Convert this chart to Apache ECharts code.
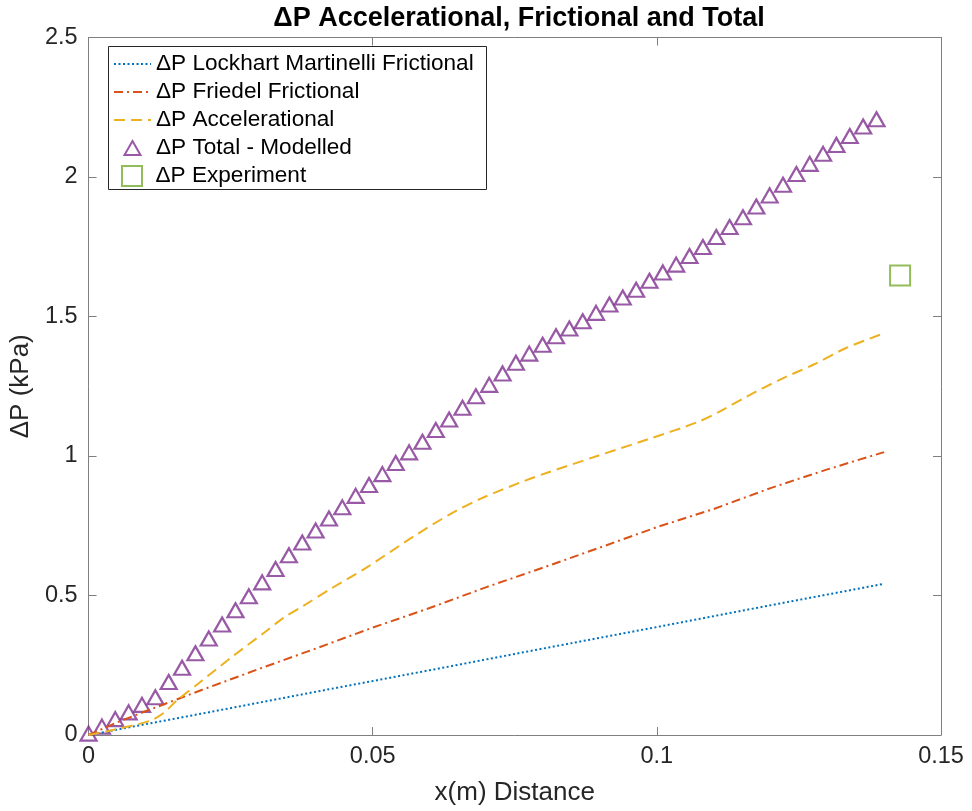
<!DOCTYPE html>
<html>
<head>
<meta charset="utf-8">
<script src="https://cdn.jsdelivr.net/npm/echarts@6/dist/echarts.min.js"></script>
<style>
  html, body { margin: 0; padding: 0; background: #ffffff; }
  #chart { width: 972px; height: 811px; }
</style>
</head>
<body>
<div id="chart"></div>
<script>
// Axis ticks
const xTicks = [0, 0.05, 0.1, 0.15];
const yTicks = [0, 0.5, 1, 1.5, 2, 2.5];

// Lockhart-Martinelli frictional pressure drop (kPa) along the channel (m)
const lmX = [0, 0.02, 0.04, 0.06, 0.08, 0.10, 0.12, 0.14];
const lmY = [0, 0.077, 0.155, 0.232, 0.31, 0.387, 0.465, 0.542];

// Friedel frictional pressure drop
const frX = [0, 0.005, 0.01, 0.02, 0.03, 0.04, 0.05, 0.06, 0.07, 0.08, 0.09, 0.10, 0.11, 0.12, 0.13, 0.14];
const frY = [0, 0.045, 0.085, 0.162, 0.237, 0.31, 0.385, 0.455, 0.53, 0.60, 0.672, 0.745, 0.81, 0.885, 0.952, 1.014];

// Accelerational pressure drop
const acX = [0, 0.005, 0.0108, 0.0132, 0.0155, 0.0196, 0.0255, 0.0313, 0.0343, 0.0378, 0.0427, 0.0489,
             0.0573, 0.0635, 0.069, 0.0766, 0.0807, 0.0895, 0.0983, 0.1071, 0.1112, 0.1159, 0.1217,
             0.1276, 0.1334, 0.14];
const acY = [0, 0.021, 0.051, 0.079, 0.123, 0.189, 0.284, 0.373, 0.42, 0.463, 0.525, 0.600,
             0.713, 0.790, 0.847, 0.910, 0.940, 1.000, 1.059, 1.121, 1.161, 1.214, 1.274,
             1.328, 1.388, 1.44];

// Total modelled pressure drop
const totX = [0, 0.00235, 0.0047, 0.00705, 0.0094, 0.01175, 0.0141, 0.01645, 0.0188, 0.02115,
              0.0235, 0.02585, 0.0282, 0.03055, 0.0329, 0.03525, 0.0376, 0.03995, 0.0423, 0.04465,
              0.047, 0.04935, 0.0517, 0.05405, 0.0564, 0.05875, 0.0611, 0.06345, 0.0658, 0.06815,
              0.0705, 0.07285, 0.0752, 0.07755, 0.0799, 0.08225, 0.0846, 0.08695, 0.0893, 0.09165,
              0.094, 0.09635, 0.0987, 0.10105, 0.1034, 0.10575, 0.1081, 0.11045, 0.1128, 0.11515,
              0.1175, 0.11985, 0.1222, 0.12455, 0.1269, 0.12925, 0.1316, 0.13395, 0.1363, 0.13865];
const totY = [0.005, 0.030, 0.057, 0.081, 0.108, 0.135, 0.190, 0.241, 0.293, 0.346,
              0.396, 0.447, 0.497, 0.547, 0.595, 0.644, 0.690, 0.733, 0.776, 0.816,
              0.857, 0.896, 0.935, 0.975, 1.013, 1.051, 1.093, 1.131, 1.173, 1.214,
              1.255, 1.296, 1.334, 1.367, 1.399, 1.429, 1.457, 1.483, 1.513, 1.543,
              1.568, 1.596, 1.628, 1.658, 1.686, 1.717, 1.749, 1.785, 1.821, 1.856,
              1.894, 1.934, 1.972, 2.011, 2.047, 2.083, 2.115, 2.147, 2.181, 2.207];

// Measured pressure drop
const expX = [0.1428];
const expY = [1.647];

const names = ['\u0394P Lockhart Martinelli Frictional', '\u0394P Friedel Frictional',
               '\u0394P Accelerational', '\u0394P Total - Modelled', '\u0394P Experiment'];

const pair = (xs, ys) => xs.map((x, i) => [x, ys[i]]);

const FONT = '"Liberation Sans", Arial, Helvetica, sans-serif';
const AXIS_COLOR = '#7f7f7f';
const TEXT_COLOR = '#262626';
const PURPLE = '#7E2F8E';
const GREEN = '#77AC30';

const xMin = xTicks[0], xMax = xTicks[xTicks.length - 1], xStep = xTicks[1] - xTicks[0];
const yMin = yTicks[0], yMax = yTicks[yTicks.length - 1], yStep = yTicks[1] - yTicks[0];

function axisBase(extra) {
  return Object.assign({
    type: 'value',
    splitLine: { show: false },
    axisLine: { show: true, onZero: false, lineStyle: { color: AXIS_COLOR, width: 1 } },
    axisTick: { show: true, inside: true, length: 8, lineStyle: { color: AXIS_COLOR, width: 1 } }
  }, extra);
}

// Hollow markers for the legend, kept square so they are not stretched
const triIcon = 'path://M8,0 L16,14 L0,14 Z';
const sqIcon = 'path://M0,0 L20,0 L20,20 L0,20 Z';

const chart = echarts.init(document.getElementById('chart'), null, { renderer: 'canvas' });

chart.setOption({
  animation: false,
  backgroundColor: '#ffffff',
  title: {
    text: '\u0394P Accelerational, Frictional and Total',
    left: 514, top: 0, textAlign: 'center',
    textStyle: { fontFamily: FONT, fontSize: 27, fontWeight: 'bold', color: '#000000' }
  },
  grid: { left: 87, right: 31, top: 37.5, bottom: 75, containLabel: false },
  xAxis: [
    axisBase({
      min: xMin, max: xMax, interval: xStep, position: 'bottom',
      name: 'x(m) Distance', nameLocation: 'middle', nameGap: 45,
      nameTextStyle: { fontFamily: FONT, fontSize: 26, color: TEXT_COLOR },
      axisLabel: { fontFamily: FONT, fontSize: 23.5, color: TEXT_COLOR, margin: 10 }
    }),
    axisBase({ min: xMin, max: xMax, interval: xStep, position: 'top', axisLabel: { show: false } })
  ],
  yAxis: [
    axisBase({
      min: yMin, max: yMax, interval: yStep, position: 'left',
      name: '\u0394P (kPa)', nameLocation: 'middle', nameGap: 39,
      nameTextStyle: { fontFamily: FONT, fontSize: 26, color: TEXT_COLOR },
      axisLabel: { fontFamily: FONT, fontSize: 23.5, color: TEXT_COLOR, margin: 11 }
    }),
    axisBase({ min: yMin, max: yMax, interval: yStep, position: 'right', axisLabel: { show: false } })
  ],
  graphic: [{
    type: 'rect', z: 3,
    shape: { x: 108.5, y: 46.5, width: 378, height: 143 },
    style: { fill: '#ffffff', stroke: '#262626', lineWidth: 1 }
  }],
  legend: [
    {
      orient: 'vertical', left: 113, top: 52, z: 5, padding: 0,
      itemWidth: 37, itemHeight: 14, itemGap: 4, itemTextGap: 6,
      symbolKeepAspect: true,
      textStyle: { fontFamily: FONT, fontSize: 22.6, lineHeight: 24, color: '#000000' },
      lineStyle: { width: 2 },
      itemStyle: { borderWidth: 2 },
      data: [
        { name: names[0], itemStyle: { opacity: 0 } },
        { name: names[1], itemStyle: { opacity: 0 } },
        { name: names[2], itemStyle: { opacity: 0 } },
        { name: names[3], icon: triIcon,
          itemStyle: { color: 'rgba(255,255,255,0)', borderColor: PURPLE, borderWidth: 2 } }
      ]
    },
    {
      orient: 'vertical', left: 121, top: 164, z: 5, padding: 0,
      itemWidth: 37, itemHeight: 20, itemTextGap: 6,
      symbolKeepAspect: true,
      textStyle: { fontFamily: FONT, fontSize: 22.6, lineHeight: 24, color: '#000000' },
      data: [{ name: names[4], icon: sqIcon,
               itemStyle: { color: 'rgba(255,255,255,0)', borderColor: GREEN, borderWidth: 2 } }]
    }
  ],
  series: [
    {
      name: names[0], type: 'line', data: pair(lmX, lmY), symbol: 'none',
      lineStyle: { color: '#0072BD', width: 2, type: [2, 2.5] },
      itemStyle: { color: '#0072BD' }
    },
    {
      name: names[1], type: 'line', data: pair(frX, frY), symbol: 'none',
      lineStyle: { color: '#D95319', width: 2, type: [9, 4, 2, 4] },
      itemStyle: { color: '#D95319' }
    },
    {
      name: names[2], type: 'line', data: pair(acX, acY), symbol: 'none', smooth: 0.3,
      lineStyle: { color: '#EDB120', width: 2, type: [11, 6] },
      itemStyle: { color: '#EDB120' }
    },
    {
      name: names[3], type: 'scatter', data: pair(totX, totY),
      symbol: 'triangle', symbolSize: [16, 14],
      itemStyle: { color: 'rgba(255,255,255,0)', borderColor: PURPLE, borderWidth: 2.2 }
    },
    {
      name: names[4], type: 'scatter', data: pair(expX, expY),
      symbol: 'rect', symbolSize: 20,
      itemStyle: { color: 'rgba(255,255,255,0)', borderColor: GREEN, borderWidth: 2 }
    }
  ]
});
</script>
</body>
</html>
